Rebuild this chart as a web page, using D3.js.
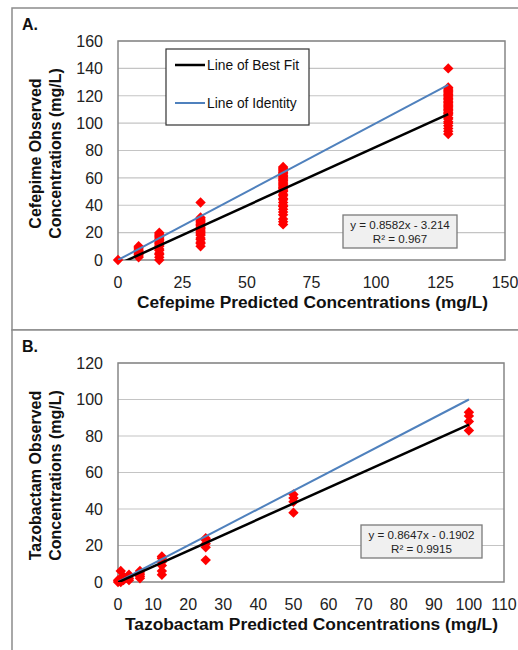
<!DOCTYPE html>
<meta charset="utf-8">
<style>
body { margin: 0; background: #fff; }
text { font-family: "Liberation Sans", Arial, sans-serif; }
.tick-label { font-size: 16px; fill: #222; }
.axis-title { font-size: 16px; font-weight: bold; fill: #111; }
.panel-label { font-size: 16px; font-weight: bold; fill: #111; }
.legend-text { font-size: 13.8px; fill: #111; }
.eq-text { font-size: 11.6px; fill: #222; }
</style>
<body>
<svg width="518" height="650"></svg>
<script src="https://d3js.org/d3.v7.min.js"></script>
<script>

// Panel A - cefepime
var cefPredicted = [0, 8, 16, 32, 64, 128];
var cefObserved = [
  [0],
  [2, 3, 4, 5, 6, 7, 8, 9, 10],
  [0, 2, 4, 5, 7, 8, 10, 11, 12, 13, 14, 15, 16, 17, 18, 19, 20],
  [10, 12, 13, 15, 16, 18, 19, 20, 21, 22, 23, 24, 25, 26, 27, 28, 29, 30, 31, 42],
  [26, 28, 30, 33, 35, 37, 39, 40, 42, 44, 45, 47, 48, 50, 51, 52, 53, 54, 55, 56, 57, 58, 59, 60, 61, 62, 63, 64, 65, 66, 67, 68],
  [92, 94, 96, 98, 100, 101, 103, 104, 106, 107, 108, 109, 110, 111, 112, 113, 114, 115, 116, 117, 118, 119, 120, 121, 122, 123, 124, 125, 126, 140]
];
var cefFit = { slope: 0.8582, intercept: -3.214 };
var cefLineRange = [0, 128];
var cefXTicks = [0, 25, 50, 75, 100, 125, 150];
var cefYTicks = [0, 20, 40, 60, 80, 100, 120, 140, 160];
var cefEquation = ["y = 0.8582x - 3.214", "R\u00b2 = 0.967"];

// Panel B - tazobactam
var tazPredicted = [0, 0.78, 1.56, 3.13, 6.25, 12.5, 25, 50, 100];
var tazObserved = [
  [0, 1],
  [0, 2, 6],
  [1, 2, 3],
  [1, 2, 4],
  [2, 3, 4, 5, 6],
  [4, 6, 9, 11, 13, 14],
  [12, 19, 21, 23, 24],
  [38, 44, 46, 48],
  [83, 88, 91, 93]
];
var tazFit = { slope: 0.8647, intercept: -0.1902 };
var tazLineRange = [0, 100];
var tazXTicks = [0, 10, 20, 30, 40, 50, 60, 70, 80, 90, 100, 110];
var tazYTicks = [0, 20, 40, 60, 80, 100, 120];
var tazEquation = ["y = 0.8647x - 0.1902", "R\u00b2 = 0.9915"];

var svg = d3.select("svg");

// panel frames
svg.append("rect").attr("x", 12).attr("y", 8).attr("width", 520).attr("height", 322)
    .attr("fill", "#fff").attr("stroke", "#8c8c8c").attr("stroke-width", 1.5);
svg.append("rect").attr("x", 12).attr("y", 330).attr("width", 520).attr("height", 340)
    .attr("fill", "#fff").attr("stroke", "#8c8c8c").attr("stroke-width", 1.5);

function diamond(s) {
  return "M0," + (-s) + "L" + s + ",0L0," + s + "L" + (-s) + ",0Z";
}

function drawPanel(o) {
  var x = d3.scaleLinear().domain(o.xDomain).range([o.left, o.right]);
  var y = d3.scaleLinear().domain(o.yDomain).range([o.bottom, o.top]);
  var g = svg.append("g");

  g.append("text").attr("class", "panel-label")
      .attr("x", 22).attr("y", o.labelY).text(o.label);

  // gridlines
  g.selectAll(".grid").data(o.yTicks.slice(1))
    .enter().append("line")
      .attr("x1", o.left).attr("x2", o.right)
      .attr("y1", function(d) { return y(d); })
      .attr("y2", function(d) { return y(d); })
      .attr("stroke", "#c4c4c4").attr("stroke-width", 1.2);

  g.append("rect")
      .attr("x", o.left).attr("y", o.top)
      .attr("width", o.right - o.left).attr("height", o.bottom - o.top)
      .attr("fill", "none").attr("stroke", "#868686").attr("stroke-width", 1.5);

  // tick labels
  g.selectAll(".ytl").data(o.yTicks)
    .enter().append("text").attr("class", "tick-label")
      .attr("x", o.left - 15)
      .attr("y", function(d) { return y(d); })
      .attr("dy", "0.36em")
      .attr("text-anchor", "end")
      .text(function(d) { return d; });

  g.selectAll(".xtl").data(o.xTicks)
    .enter().append("text").attr("class", "tick-label")
      .attr("x", function(d) { return x(d); })
      .attr("y", o.bottom + 28)
      .attr("text-anchor", "middle")
      .text(function(d) { return d; });

  // axis titles
  g.append("text").attr("class", "axis-title")
      .attr("x", o.xTitleSpan[0])
      .attr("y", o.bottom + 48)
      .attr("textLength", o.xTitleSpan[1] - o.xTitleSpan[0])
      .attr("lengthAdjust", "spacingAndGlyphs")
      .text(o.xTitle);

  var cy = (o.top + o.bottom) / 2 + 3;
  o.yTitle.forEach(function(t, i) {
    g.append("text").attr("class", "axis-title")
        .attr("transform", "translate(" + (41 + i * 20) + "," + cy + ") rotate(-90)")
        .attr("text-anchor", "middle")
        .text(t);
  });

  // clip for trend lines
  var clipId = "clip" + o.label.charAt(0);
  svg.append("clipPath").attr("id", clipId)
    .append("rect")
      .attr("x", o.left).attr("y", o.top)
      .attr("width", o.right - o.left).attr("height", o.bottom - o.top);

  // points
  var pts = [];
  o.predicted.forEach(function(px, i) {
    o.observed[i].forEach(function(v) { pts.push([px, v]); });
  });
  g.selectAll(".pt").data(pts)
    .enter().append("path")
      .attr("transform", function(d) { return "translate(" + x(d[0]) + "," + y(d[1]) + ")"; })
      .attr("d", diamond(5.2))
      .attr("fill", "#ff0000");

  var lines = g.append("g").attr("clip-path", "url(#" + clipId + ")");
  var line = d3.line()
      .x(function(d) { return x(d[0]); })
      .y(function(d) { return y(d[1]); });

  lines.append("path")
      .datum(o.lineRange.map(function(v) { return [v, v]; }))
      .attr("d", line)
      .attr("fill", "none").attr("stroke", "#4f81bd").attr("stroke-width", 2);

  lines.append("path")
      .datum(o.lineRange.map(function(v) { return [v, o.fit.slope * v + o.fit.intercept]; }))
      .attr("d", line)
      .attr("fill", "none").attr("stroke", "#000").attr("stroke-width", 2.5);

  // equation box
  var eb = o.eqBox;
  g.append("rect")
      .attr("x", eb[0]).attr("y", eb[1]).attr("width", eb[2]).attr("height", eb[3])
      .attr("fill", "#f0f0f0").attr("stroke", "#7a7a7a").attr("stroke-width", 1.3);
  o.equation.forEach(function(t, i) {
    g.append("text").attr("class", "eq-text")
        .attr("x", eb[0] + eb[2] / 2)
        .attr("y", eb[1] + 14 + i * 13.5)
        .attr("text-anchor", "middle")
        .text(t);
  });

  return g;
}

drawPanel({
  label: "A.", labelY: 30,
  left: 118, right: 505, top: 41, bottom: 260,
  xDomain: [0, 150], yDomain: [0, 160],
  xTicks: cefXTicks, yTicks: cefYTicks,
  predicted: cefPredicted, observed: cefObserved,
  fit: cefFit, lineRange: cefLineRange,
  xTitle: "Cefepime Predicted Concentrations (mg/L)", xTitleSpan: [137, 488],
  yTitle: ["Cefepime Observed", "Concentrations (mg/L)"],
  equation: cefEquation, eqBox: [343, 215, 114, 33]
});

drawPanel({
  label: "B.", labelY: 352,
  left: 118, right: 504, top: 363, bottom: 582,
  xDomain: [0, 110], yDomain: [0, 120],
  xTicks: tazXTicks, yTicks: tazYTicks,
  predicted: tazPredicted, observed: tazObserved,
  fit: tazFit, lineRange: tazLineRange,
  xTitle: "Tazobactam Predicted Concentrations (mg/L)", xTitleSpan: [125, 498],
  yTitle: ["Tazobactam Observed", "Concentrations (mg/L)"],
  equation: tazEquation, eqBox: [361, 525, 121, 33]
});

// legend (panel A)
var legend = svg.append("g");
legend.append("rect")
    .attr("x", 166).attr("y", 49).attr("width", 143).attr("height", 76)
    .attr("fill", "#fff").attr("stroke", "#333").attr("stroke-width", 1.2);
var legendItems = [
  { name: "Line of Best Fit", color: "#000", width: 2.5 },
  { name: "Line of Identity", color: "#4f81bd", width: 2 }
];
legendItems.forEach(function(d, i) {
  var ly = 65 + i * 38;
  legend.append("line")
      .attr("x1", 175).attr("x2", 205).attr("y1", ly).attr("y2", ly)
      .attr("stroke", d.color).attr("stroke-width", d.width);
  legend.append("text").attr("class", "legend-text")
      .attr("x", 207).attr("y", ly).attr("dy", "0.35em")
      .text(d.name);
});
</script>
</body>
